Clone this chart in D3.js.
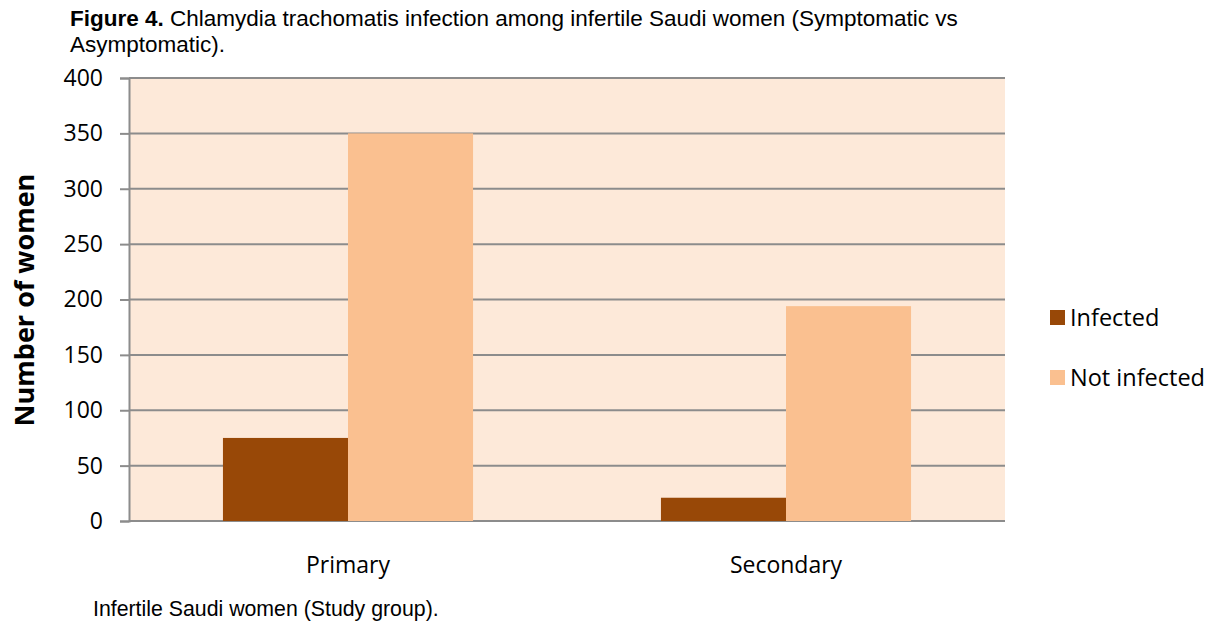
<!DOCTYPE html>
<meta charset="utf-8">
<script src="https://cdn.jsdelivr.net/npm/d3@7"></script>
<style>
body { margin: 0; background: #fff; }
.title { font: 22.5px "Liberation Sans", Arial, sans-serif; fill: #000; }
.tick text { font: 23px "Open Sans", sans-serif; fill: #000; }
.ylab { font: bold 27px "Open Sans", sans-serif; fill: #000; }
.leg { font: 23.5px "Open Sans", sans-serif; fill: #000; }
.foot { font: 21.3px "Liberation Sans", Arial, sans-serif; fill: #000; }
</style>
<body>
<script>

// data
var groups = ["Primary", "Secondary"];
var series = ["Infected", "Not infected"];
var infected = [75, 21];
var notInfected = [350, 194];
var yTicks = [0, 50, 100, 150, 200, 250, 300, 350, 400];
var colours = ["#984807", "#fac090"];

var width = 1215, height = 624;
var plotL = 129, plotR = 1005, plotT = 78, plotB = 521;

var svg = d3.select("body").append("svg")
    .attr("width", width)
    .attr("height", height);

var rows = groups.map(function(g, i) {
  return {group: g, values: [infected[i], notInfected[i]]};
});

var x0 = d3.scaleBand().domain(groups).range([plotL, plotR])
    .paddingInner(0.429).paddingOuter(0.2145);
var x1 = d3.scaleBand().domain(series).range([0, x0.bandwidth()]);
var y = d3.scaleLinear().domain([0, 400]).range([plotB, plotT]);

// plot background
svg.append("rect")
    .attr("x", plotL).attr("y", plotT)
    .attr("width", plotR - plotL).attr("height", plotB - plotT)
    .attr("fill", "#fde9d9");

// gridlines
svg.append("g").selectAll("line")
    .data(yTicks)
  .enter().append("line")
    .attr("x1", plotL).attr("x2", plotR)
    .attr("y1", function(d) { return y(d); })
    .attr("y2", function(d) { return y(d); })
    .attr("stroke", "#8c8c8c")
    .attr("stroke-width", 2);

// bars
svg.append("g").selectAll("g")
    .data(rows)
  .enter().append("g")
    .attr("transform", function(d) { return "translate(" + x0(d.group) + ",0)"; })
  .selectAll("rect")
    .data(function(d) { return d.values.map(function(v, i) { return {key: series[i], value: v, i: i}; }); })
  .enter().append("rect")
    .attr("x", function(d) { return x1(d.key); })
    .attr("y", function(d) { return y(d.value); })
    .attr("width", x1.bandwidth())
    .attr("height", function(d) { return y(0) - y(d.value); })
    .attr("fill", function(d) { return colours[d.i]; });

// y axis
var yAxis = svg.append("g")
    .attr("transform", "translate(" + plotL + ",0)")
    .call(d3.axisLeft(y).tickValues(yTicks).tickSize(9).tickPadding(17));
yAxis.select(".domain").attr("stroke", "#8c8c8c").attr("stroke-width", 2);
yAxis.selectAll(".tick line").attr("stroke", "#8c8c8c").attr("stroke-width", 2);

// x axis labels
var xAxis = svg.append("g")
    .attr("transform", "translate(0," + plotB + ")")
    .call(d3.axisBottom(x0).tickSize(0).tickPadding(36));
xAxis.select(".domain").remove();

// y label
svg.append("text")
    .attr("class", "ylab")
    .attr("transform", "translate(34,300) rotate(-90)")
    .attr("text-anchor", "middle")
    .text("Number of women");

// legend
var leg = svg.append("g").selectAll("g")
    .data(series)
  .enter().append("g")
    .attr("transform", function(d, i) { return "translate(1050," + (318 + i * 60) + ")"; });
leg.append("rect")
    .attr("x", 0).attr("y", -8)
    .attr("width", 15).attr("height", 15)
    .attr("fill", function(d, i) { return colours[i]; });
leg.append("text")
    .attr("class", "leg")
    .attr("x", 20).attr("dy", "0.35em")
    .text(function(d) { return d; });

// title
var t = svg.append("text").attr("class", "title").attr("x", 70).attr("y", 26);
t.append("tspan").attr("font-weight", "bold").text("Figure 4.");
t.append("tspan").text(" Chlamydia trachomatis infection among infertile Saudi women (Symptomatic vs");
svg.append("text").attr("class", "title").attr("x", 70).attr("y", 52).text("Asymptomatic).");

svg.append("text").attr("class", "foot").attr("x", 93).attr("y", 616)
    .text("Infertile Saudi women (Study group).");

</script>
</body>
